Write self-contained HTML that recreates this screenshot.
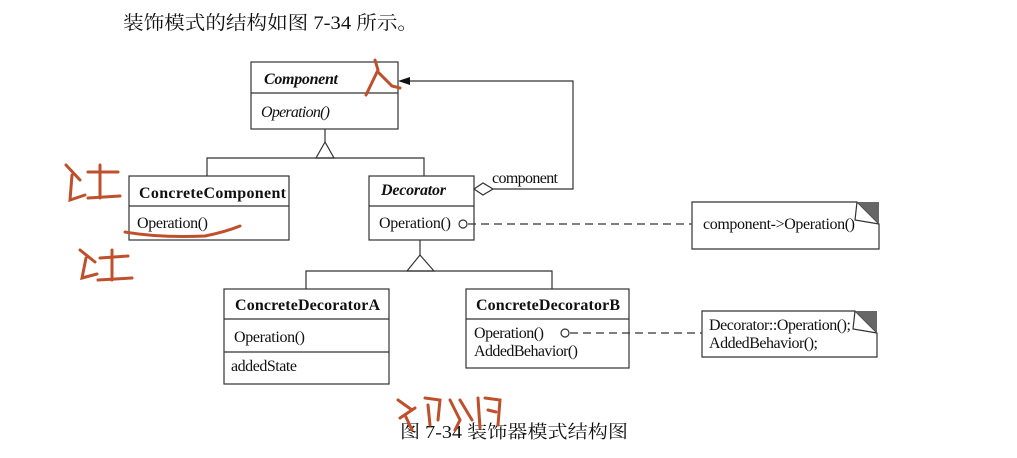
<!DOCTYPE html>
<html><head><meta charset="utf-8"><style>
html,body{margin:0;padding:0;background:#fff;}
svg{display:block;}
text{font-family:"Liberation Serif","Noto Serif CJK SC",serif;fill:#111;}
</style></head><body>
<svg width="1017" height="458" viewBox="0 0 1017 458" xmlns="http://www.w3.org/2000/svg">
<text x="123" y="29" font-size="19" textLength="295" lengthAdjust="spacingAndGlyphs">装饰模式的结构如图 7-34 所示。</text>
<g fill="#fff" stroke="#333" stroke-width="1.2">
<rect x="251" y="62" width="147" height="67"/><line x1="251" y1="93" x2="398" y2="93"/>
<rect x="129" y="176" width="160" height="64"/><line x1="129" y1="206" x2="289" y2="206"/>
<rect x="369" y="176" width="105" height="64"/><line x1="369" y1="206" x2="474" y2="206"/>
<rect x="224" y="289" width="165" height="95"/><line x1="224" y1="319" x2="389" y2="319"/><line x1="224" y1="352" x2="389" y2="352"/>
<rect x="466" y="289" width="163" height="79"/><line x1="466" y1="319" x2="629" y2="319"/>
<path d="M692 202 H857 L879 224 V249 H692 Z"/>
<path d="M702 311 H855 L877 333 V357 H702 Z"/>
</g>
<g fill="none" stroke="#333" stroke-width="1.2">
<line x1="325" y1="129" x2="325" y2="142"/>
<path d="M325 142 L316 158 H334 Z" fill="#fff"/>
<path d="M207 176 V158 H424 V176"/>
<line x1="420" y1="240" x2="420" y2="255"/>
<path d="M420 255 L407 271 H434 Z" fill="#fff"/>
<path d="M306 289 V271 H552 V289"/>
<path d="M493 189 H573 V81 H410"/>
<path d="M474 189 L483 183 L493 189 L483 195 Z" fill="#fff"/>
<circle cx="463" cy="224" r="4" fill="#fff"/>
<line x1="468" y1="224" x2="692" y2="224" stroke-dasharray="8,5"/>
<circle cx="565" cy="333" r="4" fill="#fff"/>
<line x1="570" y1="333" x2="702" y2="333" stroke-dasharray="8,5"/>
<path d="M857 202 L855 220 L879 224"/>
<path d="M855 311 L853 329 L877 333"/>
</g>
<path d="M398 81 L410 77 L410 85 Z" fill="#111"/>
<path d="M857 202 H879 V224 Z" fill="#666"/>
<path d="M855 311 H877 V333 Z" fill="#666"/>
<g font-size="16" lengthAdjust="spacingAndGlyphs">
<text x="264" y="84" font-weight="bold" font-style="italic" textLength="74">Component</text>
<text x="261" y="117" font-style="italic" textLength="69">Operation()</text>
<text x="139" y="198" font-weight="bold" textLength="147">ConcreteComponent</text>
<text x="137" y="228" textLength="71">Operation()</text>
<text x="381" y="195" font-weight="bold" font-style="italic" textLength="65">Decorator</text>
<text x="379" y="228" textLength="72">Operation()</text>
<text x="492" y="183" textLength="66">component</text>
<text x="703" y="229" textLength="152">component-&gt;Operation()</text>
<text x="235" y="310" font-weight="bold" textLength="145">ConcreteDecoratorA</text>
<text x="234" y="342" textLength="71">Operation()</text>
<text x="231" y="371" textLength="66">addedState</text>
<text x="476" y="310" font-weight="bold" textLength="144">ConcreteDecoratorB</text>
<text x="474" y="338" textLength="70">Operation()</text>
<text x="474" y="356" textLength="104">AddedBehavior()</text>
<text x="709" y="330" textLength="142">Decorator::Operation();</text>
<text x="709" y="348" textLength="109">AddedBehavior();</text>
</g>
<text x="400" y="438" font-size="18" textLength="228" lengthAdjust="spacingAndGlyphs">图 7-34  装饰器模式结构图</text>
<g fill="none" stroke="#c0502b" stroke-width="3" stroke-linecap="round">
<path d="M375 60 L378 70 L366 95 M378 72 L392 86 L400 88"/>
<path d="M125 232 Q160 238 205 236 Q225 232 240 226"/>
<path d="M66 165 L80 180 M72 175 L70 200 L85 195 M88 172 L118 172 M100 165 L100 198 M88 198 L120 196"/>
<path d="M80 250 L95 262 M86 258 L82 278 L97 274 M100 258 L128 256 M112 250 L112 280 M98 280 L132 278"/>
<path d="M398 400 L412 410 M400 418 L415 408 M405 415 L412 430 M425 398 L440 400 L438 420 M428 405 L430 425 M450 400 L460 420 L455 430 M460 400 L472 420 M478 398 L480 428 M485 398 L500 400 L498 425 M488 410 L496 412"/>
</g>
</svg>
</body></html>
